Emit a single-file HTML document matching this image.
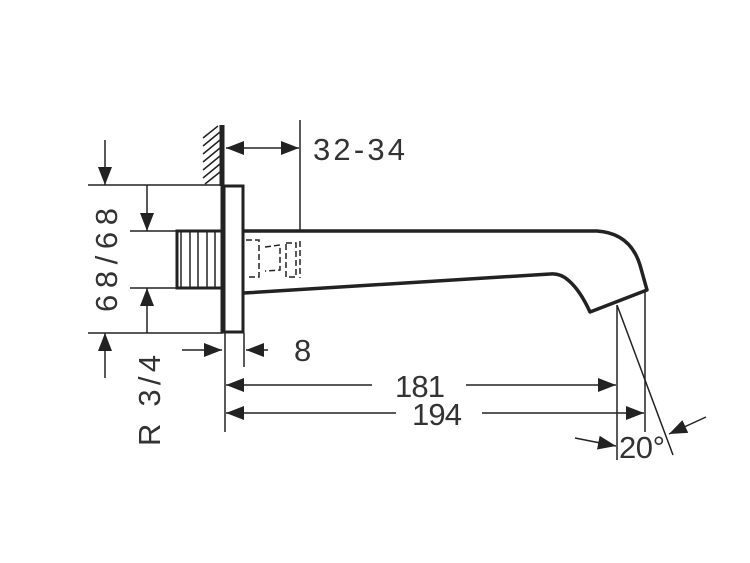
<!DOCTYPE html>
<html><head><meta charset="utf-8"><style>
html,body{margin:0;padding:0;background:#fff;width:750px;height:563px;overflow:hidden}
svg{display:block}
text{font-family:"Liberation Sans",sans-serif;fill:#333}
</style></head><body>
<svg width="750" height="563" viewBox="0 0 750 563" xmlns="http://www.w3.org/2000/svg">
<defs>
<marker id="a" viewBox="0 0 10 10" refX="10" refY="5" markerWidth="18" markerHeight="14" markerUnits="userSpaceOnUse" orient="auto" preserveAspectRatio="none"><path d="M0,0 L10,5 L0,10 Z" fill="#222"/></marker>
</defs>
<g stroke="#222" fill="none">
<line x1="222" y1="125" x2="222" y2="186" stroke-width="5"/>
<g stroke-width="1.5">
<line x1="203" y1="138" x2="218" y2="126"/>
<line x1="203" y1="146" x2="220" y2="132"/>
<line x1="203" y1="154" x2="220" y2="140"/>
<line x1="203" y1="162" x2="220" y2="148"/>
<line x1="203" y1="170" x2="220" y2="156"/>
<line x1="203" y1="178" x2="220" y2="164"/>
<line x1="205" y1="184" x2="220" y2="172"/>
</g>
<rect x="223" y="186" width="20" height="146" stroke-width="3"/>
<line x1="223" y1="186" x2="223" y2="333" stroke-width="5"/>
<rect x="177" y="231" width="45" height="57" stroke-width="3"/>
<g stroke-width="1.5">
<line x1="181" y1="231" x2="181" y2="288"/>
<line x1="190" y1="231" x2="190" y2="288"/>
<line x1="198" y1="231" x2="198" y2="288"/>
<line x1="207" y1="231" x2="207" y2="288"/>
<line x1="215" y1="231" x2="215" y2="288"/>
</g>
<path d="M244,231 L597,231 Q630,233 640,265 L647,290 L590,312 Q580,290 568,280 Q560,273 550,274 L244,293" stroke-width="3.5" stroke-linejoin="round"/>
<g stroke-width="1.5" stroke-dasharray="6,3">
<path d="M246,240 L259,240 L259,277 L246,277"/>
<path d="M265,247 L280,245 L280,270 L265,271"/>
<path d="M286,243 L296,243 L296,277 L286,277 Z"/>
<line x1="300" y1="241" x2="300" y2="278"/>
</g>
<g stroke-width="1.5">
<line x1="88" y1="185" x2="223" y2="185"/>
<line x1="88" y1="333" x2="223" y2="333"/>
<line x1="130" y1="231" x2="177" y2="231"/>
<line x1="130" y1="288" x2="177" y2="288"/>
<line x1="105" y1="140" x2="105" y2="185" marker-end="url(#a)"/>
<line x1="105" y1="378" x2="105" y2="333" marker-end="url(#a)"/>
<line x1="147" y1="185" x2="147" y2="231" marker-end="url(#a)"/>
<line x1="147" y1="333" x2="147" y2="288" marker-end="url(#a)"/>
<line x1="300" y1="120" x2="300" y2="231"/>
<line x1="262" y1="148" x2="226" y2="148" marker-end="url(#a)"/>
<line x1="262" y1="148" x2="299" y2="148" marker-end="url(#a)"/>
<line x1="225" y1="333" x2="225" y2="432"/>
<line x1="244" y1="333" x2="244" y2="367"/>
<line x1="182" y1="350" x2="222" y2="350" marker-end="url(#a)"/>
<line x1="268" y1="350" x2="246" y2="350" marker-end="url(#a)"/>
<line x1="372" y1="385" x2="226" y2="385" marker-end="url(#a)"/>
<line x1="466" y1="385" x2="616" y2="385" marker-end="url(#a)"/>
<line x1="396" y1="413" x2="226" y2="413" marker-end="url(#a)"/>
<line x1="482" y1="413" x2="644" y2="413" marker-end="url(#a)"/>
<line x1="617" y1="305" x2="617" y2="460"/>
<line x1="645" y1="290" x2="645" y2="432"/>
<line x1="617" y1="305" x2="673" y2="455"/>
<path d="M575,438 Q595,442 616,446" marker-end="url(#a)"/>
<line x1="706" y1="417" x2="669" y2="434" marker-end="url(#a)"/>
</g>
</g>
<text x="313" y="160" font-size="31" textLength="92" lengthAdjust="spacing">32-34</text>
<text x="294" y="361" font-size="31">8</text>
<text x="395" y="397" font-size="31" textLength="50" lengthAdjust="spacing">181</text>
<text x="412" y="425" font-size="31" textLength="50" lengthAdjust="spacing">194</text>
<text x="619" y="458" font-size="31" textLength="46" lengthAdjust="spacing">20°</text>
<text transform="translate(117,312) rotate(-90)" font-size="31" textLength="104" lengthAdjust="spacing">68/68</text>
<text transform="translate(160,446) rotate(-90)" font-size="31" textLength="91" lengthAdjust="spacing">R 3/4</text>
</svg>
</body></html>
